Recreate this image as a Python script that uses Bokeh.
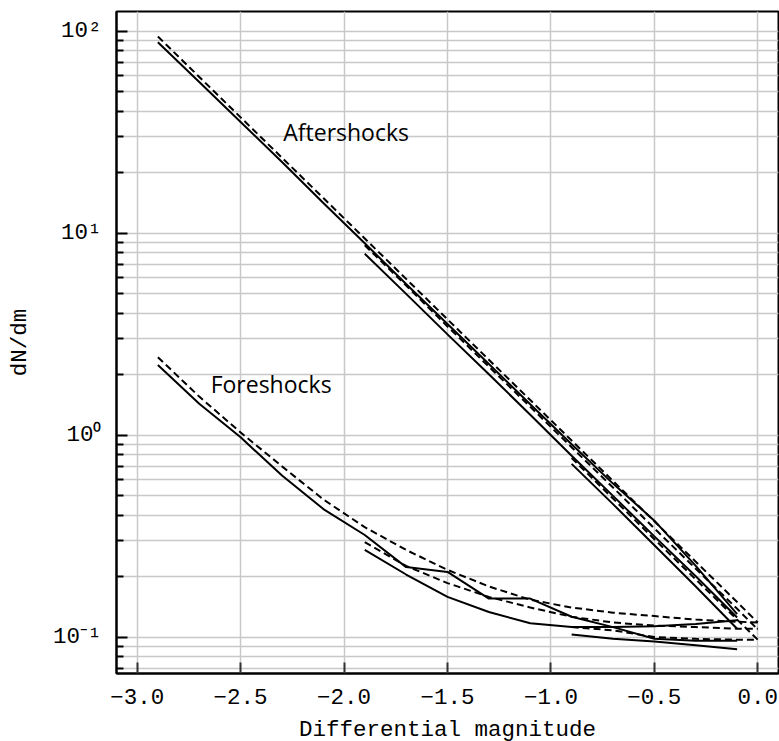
from bokeh.plotting import figure
from bokeh.models import FixedTicker, CustomJSTickFormatter, Range1d
from bokeh.core.properties import value
from bokeh.embed import file_html
from bokeh.resources import INLINE

# ---------------- data ----------------
mag_full = [-2.9, -2.7, -2.5, -2.3, -2.1, -1.9, -1.7, -1.5, -1.3, -1.1, -0.9, -0.7, -0.5, -0.3, -0.1]
mag_mid = [-1.9, -1.7, -1.5, -1.3, -1.1, -0.9, -0.7, -0.5, -0.3, -0.1]
mag_low = [-0.9, -0.7, -0.5, -0.3, -0.1]
mag_full_model = [-2.9, -2.7, -2.5, -2.3, -2.1, -1.9, -1.7, -1.5, -1.3, -1.1, -0.9, -0.7, -0.5, -0.3, -0.1, 0.0]
mag_mid_model = [-1.9, -1.7, -1.5, -1.3, -1.1, -0.9, -0.7, -0.5, -0.3, -0.1, 0.0]
mag_low_model = [-0.9, -0.7, -0.5, -0.3, -0.1, 0.0]

# aftershocks, solid
aft_obs_full = [88, 56, 35.5, 22.5, 14.1, 8.9, 5.6, 3.55, 2.25, 1.42, 0.9, 0.575, 0.377, 0.225, 0.13]
aft_obs_mid = [7.9, 5.0, 3.15, 2.0, 1.26, 0.79, 0.5, 0.315, 0.2, 0.125]
aft_obs_low = [0.72, 0.455, 0.285, 0.178, 0.11]
# aftershocks, dashed
aft_mod_full = [94, 59.3, 37.4, 23.6, 14.9, 9.4, 5.93, 3.74, 2.36, 1.49, 0.94, 0.593, 0.374, 0.236, 0.149, 0.118]
aft_mod_mid = [8.7, 5.5, 3.45, 2.18, 1.38, 0.87, 0.55, 0.345, 0.218, 0.138, 0.109]
aft_mod_low = [0.77, 0.485, 0.305, 0.193, 0.122, 0.097]

# foreshocks, solid
fore_obs_full = [2.22, 1.43, 0.975, 0.63, 0.43, 0.32, 0.222, 0.21, 0.155, 0.155, 0.126, 0.112, 0.098, 0.096, 0.096]
fore_obs_mid = [0.27, 0.204, 0.158, 0.133, 0.117, 0.112, 0.112, 0.113, 0.116, 0.121]
fore_obs_low = [0.103, 0.098, 0.095, 0.091, 0.087]
# foreshocks, dashed
fore_mod_full = [2.43, 1.55, 1.03, 0.70, 0.48, 0.35, 0.27, 0.215, 0.178, 0.153, 0.14, 0.132, 0.127, 0.122, 0.119, 0.118]
fore_mod_mid = [0.295, 0.225, 0.185, 0.158, 0.14, 0.126, 0.118, 0.114, 0.112, 0.11, 0.11]
fore_mod_low = [0.112, 0.108, 0.1, 0.098, 0.097, 0.097]

x_ticks = [-3.0, -2.5, -2.0, -1.5, -1.0, -0.5, 0.0]
x_tick_labels = ["\u22123.0", "\u22122.5", "\u22122.0", "\u22121.5", "\u22121.0", "\u22120.5", "0.0"]
y_ticks = [0.1, 1, 10, 100]
y_tick_labels = ["10\u207b\u00b9", "10\u2070", "10\u00b9", "10\u00b2"]

labels_text = ["Aftershocks", "Foreshocks"]

# ---------------- figure ----------------
FONT = "Liberation Mono"

p = figure(frame_width=662, frame_height=662, y_axis_type="log",
           x_range=Range1d(-3.10, 0.10), y_range=Range1d(0.066, 125),
           output_backend="svg", toolbar_location=None,
           min_border_left=116, min_border_right=1, min_border_top=11, min_border_bottom=68,
           background_fill_color="white", border_fill_color="white")

p.outline_line_color = "black"
p.outline_line_width = 2

# ticks
minor_y = [m * 10.0 ** e for e in range(-2, 3) for m in range(2, 10)]
p.xaxis.ticker = FixedTicker(ticks=x_ticks)
p.yaxis.ticker = FixedTicker(ticks=y_ticks, minor_ticks=minor_y)

p.xaxis.formatter = CustomJSTickFormatter(args=dict(tv=x_ticks, tl=x_tick_labels), code="""
for (let i = 0; i < tv.length; i++) { if (Math.abs(tv[i] - tick) < 1e-9) return tl[i]; }
return '';
""")
p.yaxis.formatter = CustomJSTickFormatter(args=dict(tv=y_ticks, tl=y_tick_labels), code="""
for (let i = 0; i < tv.length; i++) { if (Math.abs(Math.log10(tv[i]) - Math.log10(tick)) < 1e-6) return tl[i]; }
return '';
""")

for ax in (p.xaxis[0], p.yaxis[0]):
    ax.axis_line_width = 2
    ax.axis_line_color = "black"
    ax.major_tick_in = 11
    ax.major_tick_out = 0
    ax.minor_tick_in = 7
    ax.minor_tick_out = 0
    ax.major_tick_line_width = 2
    ax.minor_tick_line_width = 2
    ax.major_tick_line_color = "black"
    ax.minor_tick_line_color = "black"
    ax.major_label_text_font = FONT
    ax.major_label_text_font_size = "22.5px"
    ax.major_label_text_color = "black"
    ax.axis_label_text_font = FONT
    ax.axis_label_text_font_size = "22.5px"
    ax.axis_label_text_font_style = "normal"
    ax.axis_label_text_color = "black"

p.xaxis.minor_tick_line_color = None
p.xaxis.major_tick_line_color = "#333333"
p.xaxis.major_label_standoff = 15
p.xaxis.axis_label_standoff = 10
p.yaxis.major_label_standoff = 15
p.yaxis.axis_label_standoff = 17
p.xaxis.axis_label = "Differential magnitude"
p.yaxis.axis_label = "dN/dm"

# grid
p.xgrid.grid_line_color = "#c8c8c8"
p.xgrid.grid_line_width = 1.5
p.ygrid.grid_line_color = "#c8c8c8"
p.ygrid.grid_line_width = 1.5
p.ygrid.minor_grid_line_color = "#c8c8c8"
p.ygrid.minor_grid_line_width = 1.5

# curves
solid = dict(line_color="black", line_width=2)
dashed = dict(line_color="black", line_width=2, line_dash="7 4")

p.line(mag_full, aft_obs_full, **solid)
p.line(mag_mid, aft_obs_mid, **solid)
p.line(mag_low, aft_obs_low, **solid)
p.line(mag_full_model, aft_mod_full, **dashed)
p.line(mag_mid_model, aft_mod_mid, **dashed)
p.line(mag_low_model, aft_mod_low, **dashed)

p.line(mag_full, fore_obs_full, **solid)
p.line(mag_mid, fore_obs_mid, **solid)
p.line(mag_low, fore_obs_low, **solid)
p.line(mag_full_model, fore_mod_full, **dashed)
p.line(mag_mid_model, fore_mod_mid, **dashed)
p.line(mag_low_model, fore_mod_low, **dashed)

# annotations
p.text(x=[-2.294], y=[31.5], text=[labels_text[0]], text_font=value("Open Sans"),
       text_font_size="23px", text_baseline="alphabetic", text_align="left", text_color="black")
p.text(x=[-2.645], y=[1.79], text=[labels_text[1]], text_font=value("Open Sans"),
       text_font_size="23px", text_baseline="alphabetic", text_align="left", text_color="black")

open("out.html", "w").write(file_html(p, INLINE))
